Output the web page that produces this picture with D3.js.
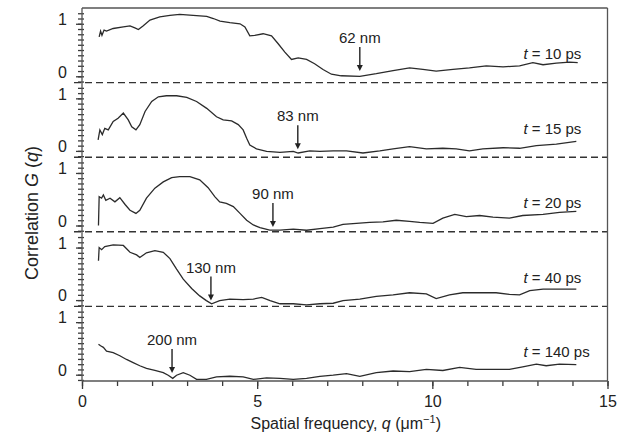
<!DOCTYPE html>
<html>
<head>
<meta charset="utf-8">
<script src="https://cdn.jsdelivr.net/npm/d3@7"></script>
<style>
  body { margin: 0; background: #fff; }
  text { font-family: "Liberation Sans", Arial, sans-serif; fill: #222; }
  .curve { fill: none; stroke: #2b2b2b; stroke-width: 1.3; }
  .dash { stroke: #333; stroke-width: 1.4; stroke-dasharray: 7 4; }
  .frame { stroke: #555; stroke-width: 1.3; }
  .tick line { stroke: #3a3a3a; stroke-width: 1.3; }
</style>
</head>
<body>
<div id="chart"></div>
<script>
// delay times, one panel each (top to bottom)
var times = [10, 15, 20, 40, 140];

// correlation G(q), [q, G]
var g10 = [[0.49,0.75],[0.53,0.86],[0.57,0.78],[0.63,0.88],[0.70,0.86],[0.89,0.91],[1.18,0.94],[1.37,0.96],[1.51,0.92],[1.61,0.89],[1.75,0.96],[1.94,1.07],[2.22,1.13],[2.51,1.16],[2.79,1.18],[3.17,1.16],[3.56,1.14],[3.75,1.10],[3.94,1.05],[4.22,1.02],[4.51,1.00],[4.65,0.94],[4.79,0.77],[4.93,0.78],[5.17,0.81],[5.41,0.77],[5.60,0.62],[5.79,0.46],[5.98,0.32],[6.17,0.35],[6.41,0.32],[6.64,0.24],[6.88,0.13],[7.12,0.04],[7.40,0.01],[7.93,0.00],[8.40,0.05],[8.88,0.11],[9.35,0.16],[9.73,0.13],[10.11,0.10],[10.59,0.13],[11.06,0.16],[11.54,0.20],[12.02,0.18],[12.49,0.20],[12.87,0.26],[13.16,0.22],[13.54,0.25],[13.92,0.27],[14.15,0.26]];
var g15 = [[0.46,0.21],[0.51,0.40],[0.58,0.31],[0.65,0.43],[0.75,0.40],[0.89,0.56],[1.03,0.62],[1.18,0.72],[1.32,0.59],[1.42,0.46],[1.54,0.40],[1.65,0.50],[1.80,0.75],[1.99,0.94],[2.18,1.03],[2.41,1.05],[2.70,1.05],[2.99,1.02],[3.27,0.94],[3.56,0.81],[3.84,0.65],[4.03,0.59],[4.27,0.57],[4.46,0.50],[4.60,0.40],[4.70,0.24],[4.79,0.11],[4.98,0.04],[5.27,-0.01],[5.65,-0.03],[6.03,-0.01],[6.17,-0.04],[6.50,0.00],[6.79,-0.01],[7.17,0.00],[7.55,0.00],[8.02,-0.04],[8.50,0.00],[8.88,0.04],[9.35,0.08],[9.83,0.04],[10.30,0.05],[10.68,0.04],[11.06,0.00],[11.44,0.04],[12.02,0.06],[12.49,0.05],[12.97,0.10],[13.54,0.13],[14.11,0.18]];
var g20 = [[0.47,0.00],[0.49,0.55],[0.56,0.52],[0.61,0.58],[0.68,0.48],[0.80,0.52],[0.94,0.45],[1.08,0.53],[1.23,0.40],[1.37,0.29],[1.54,0.23],[1.65,0.29],[1.84,0.52],[2.08,0.71],[2.32,0.83],[2.56,0.91],[2.79,0.93],[3.08,0.93],[3.36,0.87],[3.60,0.72],[3.79,0.55],[3.93,0.45],[4.12,0.42],[4.32,0.36],[4.51,0.23],[4.70,0.10],[4.89,0.01],[5.08,-0.04],[5.36,-0.09],[5.65,-0.09],[6.03,-0.07],[6.41,-0.09],[6.79,-0.06],[7.17,-0.03],[7.45,0.02],[7.83,0.04],[8.21,0.06],[8.59,0.07],[8.97,0.10],[9.35,0.08],[9.64,0.06],[10.02,0.04],[10.30,0.14],[10.64,0.21],[10.97,0.17],[11.35,0.19],[11.73,0.16],[12.20,0.14],[12.58,0.19],[13.16,0.21],[13.63,0.25],[14.11,0.27]];
var g40 = [[0.47,0.75],[0.49,1.00],[0.56,0.96],[0.65,1.02],[0.89,1.05],[1.18,1.04],[1.37,0.91],[1.56,0.86],[1.65,0.81],[1.84,0.90],[2.08,0.94],[2.32,0.91],[2.51,0.79],[2.70,0.59],[2.89,0.40],[3.13,0.22],[3.36,0.08],[3.55,-0.01],[3.70,-0.07],[3.93,-0.01],[4.22,0.02],[4.60,0.01],[4.89,0.02],[5.13,0.05],[5.37,-0.01],[5.65,-0.07],[6.03,-0.07],[6.41,-0.09],[6.79,-0.07],[7.17,-0.06],[7.45,-0.01],[7.93,0.02],[8.40,0.07],[8.88,0.10],[9.35,0.14],[9.83,0.12],[10.11,0.03],[10.49,0.10],[10.87,0.14],[11.35,0.14],[11.82,0.14],[12.20,0.11],[12.49,0.10],[12.78,0.18],[13.16,0.21],[13.63,0.21],[14.11,0.21]];
var g140 = [[0.47,0.58],[0.53,0.55],[0.61,0.52],[0.70,0.45],[0.89,0.42],[1.08,0.36],[1.27,0.29],[1.46,0.23],[1.65,0.17],[1.84,0.12],[2.08,0.08],[2.32,0.04],[2.46,-0.01],[2.59,-0.07],[2.70,-0.01],[2.89,0.04],[3.08,-0.01],[3.27,-0.09],[3.55,-0.09],[3.84,-0.04],[4.22,-0.03],[4.60,-0.04],[4.89,-0.09],[5.27,-0.06],[5.65,-0.07],[6.03,-0.09],[6.41,-0.07],[6.79,-0.03],[7.17,-0.01],[7.55,0.02],[7.93,-0.03],[8.40,0.04],[8.88,0.07],[9.35,0.06],[9.83,0.10],[10.30,0.08],[10.78,0.14],[11.25,0.10],[11.73,0.10],[12.20,0.10],[12.58,0.15],[12.97,0.20],[13.25,0.17],[13.63,0.20],[14.11,0.19]];

var curves = [g10, g15, g20, g40, g140];

// arrow marks: length scale, q position, G at the arrow tip
var annLabels = ["62 nm", "83 nm", "90 nm", "130 nm", "200 nm"];
var annQ = [7.93, 6.16, 5.45, 3.68, 2.57];
var annTip = [0.10, 0.03, -0.03, -0.01, 0.03];

var xMajor = [0, 5, 10, 15];
var yMajor = [0, 1];

var svgWidth = 623;
var svgHeight = 438;
var margin = { top: 8, right: 15.5, bottom: 57, left: 82 };
var chartWidth = svgWidth - margin.left - margin.right;
var chartHeight = svgHeight - margin.top - margin.bottom;
var panelH = chartHeight / times.length;

var svg = d3.select("#chart").append("svg")
  .attr("width", svgWidth)
  .attr("height", svgHeight);

var chart = svg.append("g")
  .attr("transform", "translate(" + margin.left + "," + margin.top + ")");

var x = d3.scaleLinear().domain([0, 15]).range([0, chartWidth]);

var line = d3.line();

times.forEach(function(t, i) {
  var top = i * panelH;
  var y = d3.scaleLinear().domain([-0.12, 1.3]).range([top + panelH, top]);

  // minor ticks every 0.1, nudged so they cross the axis line
  chart.append("g")
    .attr("transform", "translate(2,0)")
    .call(d3.axisLeft(y).tickValues(d3.range(-1, 13).map(function(k) { return k / 10; })).tickSize(6).tickFormat(""))
    .call(function(g) { g.select(".domain").remove(); });

  chart.append("g")
    .call(d3.axisLeft(y).tickValues(yMajor).tickSize(6).tickPadding(9).tickFormat(d3.format("d")))
    .call(function(g) {
      g.select(".domain").remove();
      g.selectAll("text").style("font-size", "16px").attr("dy", "0.05em");
    });

  if (i < times.length - 1) {
    chart.append("line")
      .attr("class", "dash")
      .attr("x1", -8).attr("x2", chartWidth)
      .attr("y1", top + panelH).attr("y2", top + panelH);
  }

  line.x(function(d) { return x(d[0]); }).y(function(d) { return y(d[1]); });
  chart.append("path")
    .attr("class", "curve")
    .attr("d", line(curves[i]));

  var lab = chart.append("text")
    .attr("x", x(12.6))
    .attr("y", y(0.33))
    .style("font-size", "15px");
  lab.append("tspan").style("font-style", "italic").text("t");
  lab.append("tspan").text(" = " + t + " ps");

  // arrow
  var ax = x(annQ[i]);
  var tipY = y(annTip[i]);
  chart.append("line")
    .attr("x1", ax).attr("x2", ax)
    .attr("y1", tipY - 24).attr("y2", tipY - 4)
    .attr("stroke", "#222").attr("stroke-width", 1.4);
  chart.append("path")
    .attr("d", "M" + (ax - 3) + "," + (tipY - 6) + "L" + ax + "," + tipY + "L" + (ax + 3) + "," + (tipY - 6) + "Z")
    .attr("fill", "#222");
  chart.append("text")
    .attr("x", ax)
    .attr("y", tipY - 28)
    .attr("text-anchor", "middle")
    .style("font-size", "15px")
    .text(annLabels[i]);
});

// x axis: minor unit ticks and labelled major ones
chart.append("g")
  .attr("transform", "translate(0," + chartHeight + ")")
  .call(d3.axisBottom(x).tickValues(d3.range(0, 16)).tickSize(5).tickFormat(""))
  .call(function(g) { g.select(".domain").remove(); });

chart.append("g")
  .attr("transform", "translate(0," + chartHeight + ")")
  .call(d3.axisBottom(x).tickValues(xMajor).tickSize(8).tickPadding(7))
  .call(function(g) {
    g.select(".domain").remove();
    g.selectAll("text").style("font-size", "16px");
  });

// frame
chart.append("line").attr("class", "frame").attr("x1", 0).attr("x2", 0).attr("y1", 0).attr("y2", chartHeight);
chart.append("line").attr("class", "frame").attr("x1", 0).attr("x2", chartWidth).attr("y1", chartHeight).attr("y2", chartHeight);
chart.append("line").attr("class", "frame").attr("x1", 0).attr("x2", chartWidth).attr("y1", 0).attr("y2", 0);
chart.append("line").attr("class", "frame").attr("x1", chartWidth).attr("x2", chartWidth).attr("y1", 0).attr("y2", chartHeight);

// axis titles
var xt = chart.append("text")
  .attr("x", chartWidth / 2 + 1)
  .attr("y", chartHeight + 48)
  .attr("text-anchor", "middle")
  .style("font-size", "16px");
xt.append("tspan").text("Spatial frequency, ");
xt.append("tspan").style("font-style", "italic").text("q");
xt.append("tspan").text(" (\u03bcm");
xt.append("tspan").attr("dy", "-6").style("font-size", "11px").text("\u22121");
xt.append("tspan").attr("dy", "6").text(")");

var yt = chart.append("text")
  .attr("transform", "rotate(-90)")
  .attr("x", -(213 - margin.top))
  .attr("y", 38 - margin.left)
  .attr("text-anchor", "middle")
  .style("font-size", "18px");
yt.append("tspan").text("Correlation ");
yt.append("tspan").style("font-style", "italic").text("G");
yt.append("tspan").text(" (");
yt.append("tspan").style("font-style", "italic").text("q");
yt.append("tspan").text(")");
</script>
</body>
</html>
